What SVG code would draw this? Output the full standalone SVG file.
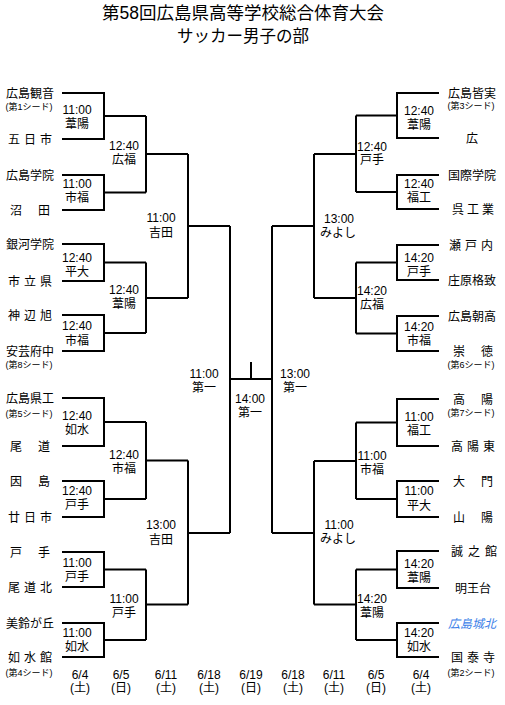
<svg xmlns="http://www.w3.org/2000/svg" width="505" height="705" viewBox="0 0 505 705">
<style>
text{font-family:"Liberation Sans","Noto Sans CJK JP",sans-serif;fill:#000}
.t{font-size:17.5px;text-anchor:middle}
.t2{font-size:16.5px;text-anchor:middle}
.n{font-size:12px;text-anchor:middle}
.s{font-size:9px;text-anchor:middle}
.m{font-size:12px;text-anchor:middle}
.d{font-size:12px;text-anchor:middle}
.blue{fill:#3a80e8;font-style:italic}
.c path{fill:none;stroke:#000;stroke-width:2}
</style>
<rect width="505" height="705" fill="#fff"/>
<g id="title">
<text class="t" x="243" y="18.5">第58回広島県高等学校総合体育大会</text>
<text class="t2" x="243" y="42">サッカー男子の部</text>
</g>
<g class="c" id="connectors">
<path d="M62 93H104V139H62M104 116H146"/>
<path d="M62 175H104V210H62M104 192.5H146"/>
<path d="M62 244H104V281H62M104 262.5H146"/>
<path d="M62 315H104V351H62M104 333H146"/>
<path d="M62 398H104V446H62M104 422H146"/>
<path d="M62 481H104V517H62M104 499H146"/>
<path d="M62 552H104V587H62M104 569.5H146"/>
<path d="M62 623H104V657H62M104 640H146"/>
<path d="M146 116V192.5M146 154H188"/>
<path d="M146 262.5V333M146 298H188"/>
<path d="M146 422V499M146 460.5H188"/>
<path d="M146 569.5V640M146 604.5H188"/>
<path d="M188 154V298M188 226H230"/>
<path d="M188 460.5V604.5M188 533H230"/>
<path d="M230 226V533M230 379H272M251 362V379"/>
<path d="M439 93H397V138H439M397 115.5H356"/>
<path d="M439 175H397V209H439M397 192H356"/>
<path d="M439 245H397V280H439M397 262.5H356"/>
<path d="M439 316H397V351H439M397 333.5H356"/>
<path d="M439 399H397V446H439M397 422.5H356"/>
<path d="M439 481H397V517H439M397 499H356"/>
<path d="M439 551H397V588H439M397 569.5H356"/>
<path d="M439 623H397V657H439M397 640H356"/>
<path d="M356 115.5V192M356 154H314"/>
<path d="M356 262.5V333.5M356 298H314"/>
<path d="M356 422.5V499M356 461H314"/>
<path d="M356 569.5V640M356 604.5H314"/>
<path d="M314 154V298M314 226H272"/>
<path d="M314 461V604.5M314 533H272"/>
<path d="M272 226V533"/>
</g>
<g id="teams-left">
<g id="t-l1"><text class="n" x="30" y="97.5">広島観音</text><text class="s" x="29" y="109.5">(第1シード)</text></g>
<g id="t-l2"><text class="n" x="30" y="143.5" textLength="44" lengthAdjust="spacing">五日市</text></g>
<g id="t-l3"><text class="n" x="30" y="179.5">広島学院</text></g>
<g id="t-l4"><text class="n" x="30" y="214.5" textLength="40" lengthAdjust="spacing">沼田</text></g>
<g id="t-l5"><text class="n" x="30" y="248.5">銀河学院</text></g>
<g id="t-l6"><text class="n" x="30" y="285.5" textLength="44" lengthAdjust="spacing">市立県</text></g>
<g id="t-l7"><text class="n" x="30" y="319.5" textLength="44" lengthAdjust="spacing">神辺旭</text></g>
<g id="t-l8"><text class="n" x="30" y="355.5">安芸府中</text><text class="s" x="29" y="367.5">(第8シード)</text></g>
<g id="t-l9"><text class="n" x="30" y="402.5">広島県工</text><text class="s" x="29" y="416.5">(第5シード)</text></g>
<g id="t-l10"><text class="n" x="30" y="450.5" textLength="40" lengthAdjust="spacing">尾道</text></g>
<g id="t-l11"><text class="n" x="30" y="485.5" textLength="40" lengthAdjust="spacing">因島</text></g>
<g id="t-l12"><text class="n" x="30" y="521.5" textLength="44" lengthAdjust="spacing">廿日市</text></g>
<g id="t-l13"><text class="n" x="30" y="556.5" textLength="40" lengthAdjust="spacing">戸手</text></g>
<g id="t-l14"><text class="n" x="30" y="591.5" textLength="44" lengthAdjust="spacing">尾道北</text></g>
<g id="t-l15"><text class="n" x="30" y="627.5">美鈴が丘</text></g>
<g id="t-l16"><text class="n" x="30" y="661.5" textLength="44" lengthAdjust="spacing">如水館</text><text class="s" x="29" y="675.5">(第4シード)</text></g>
</g>
<g id="teams-right">
<g id="t-r1"><text class="n" x="472" y="97.5">広島皆実</text><text class="s" x="471" y="108.5">(第3シード)</text></g>
<g id="t-r2"><text class="n" x="472" y="142.5">広</text></g>
<g id="t-r3"><text class="n" x="472" y="179.5">国際学院</text></g>
<g id="t-r4"><text class="n" x="473" y="213.5" textLength="42" lengthAdjust="spacing">呉工業</text></g>
<g id="t-r5"><text class="n" x="471" y="249.5" textLength="44" lengthAdjust="spacing">瀬戸内</text></g>
<g id="t-r6"><text class="n" x="472" y="284.5">庄原格致</text></g>
<g id="t-r7"><text class="n" x="472" y="320.5">広島朝高</text></g>
<g id="t-r8"><text class="n" x="473" y="355.5" textLength="40" lengthAdjust="spacing">崇徳</text><text class="s" x="471" y="367.5">(第6シード)</text></g>
<g id="t-r9"><text class="n" x="473" y="403.5" textLength="40" lengthAdjust="spacing">高陽</text><text class="s" x="471" y="415.5">(第7シード)</text></g>
<g id="t-r10"><text class="n" x="473" y="450.5" textLength="44" lengthAdjust="spacing">高陽東</text></g>
<g id="t-r11"><text class="n" x="473" y="485.5" textLength="40" lengthAdjust="spacing">大門</text></g>
<g id="t-r12"><text class="n" x="473" y="521.5" textLength="40" lengthAdjust="spacing">山陽</text></g>
<g id="t-r13"><text class="n" x="474" y="555.5" textLength="46" lengthAdjust="spacing">誠之館</text></g>
<g id="t-r14"><text class="n" x="473" y="592.5">明王台</text></g>
<g id="t-r15"><text class="n blue" x="472" y="627.5">広島城北</text></g>
<g id="t-r16"><text class="n" x="473" y="661.5" textLength="44" lengthAdjust="spacing">国泰寺</text><text class="s" x="471" y="675.5">(第2シード)</text></g>
</g>
<g id="matches-left">
<g id="m-l1"><text class="m" x="77" y="114">11:00</text><text class="m" x="77" y="128">葦陽</text></g>
<g id="m-l2"><text class="m" x="77" y="188">11:00</text><text class="m" x="77" y="202">市福</text></g>
<g id="m-l3"><text class="m" x="77" y="262">12:40</text><text class="m" x="77" y="276">平大</text></g>
<g id="m-l4"><text class="m" x="77" y="330">12:40</text><text class="m" x="77" y="345">市福</text></g>
<g id="m-l5"><text class="m" x="77" y="420">12:40</text><text class="m" x="77" y="434">如水</text></g>
<g id="m-l6"><text class="m" x="77" y="495">12:40</text><text class="m" x="77" y="509">戸手</text></g>
<g id="m-l7"><text class="m" x="77" y="567">11:00</text><text class="m" x="77" y="581">戸手</text></g>
<g id="m-l8"><text class="m" x="77" y="637">11:00</text><text class="m" x="77" y="651">如水</text></g>
<g id="m-l9"><text class="m" x="124" y="150">12:40</text><text class="m" x="124" y="164">広福</text></g>
<g id="m-l10"><text class="m" x="124" y="294">12:40</text><text class="m" x="124" y="308">葦陽</text></g>
<g id="m-l11"><text class="m" x="124" y="459">12:40</text><text class="m" x="124" y="473">市福</text></g>
<g id="m-l12"><text class="m" x="124" y="603">11:00</text><text class="m" x="124" y="617">戸手</text></g>
<g id="m-l13"><text class="m" x="161" y="222">11:00</text><text class="m" x="161" y="237">吉田</text></g>
<g id="m-l14"><text class="m" x="161" y="529">13:00</text><text class="m" x="161" y="544">吉田</text></g>
<g id="m-l15"><text class="m" x="204" y="378">11:00</text><text class="m" x="204" y="392">第一</text></g>
</g>
<g id="m-final"><text class="m" x="250" y="403">14:00</text><text class="m" x="250" y="417">第一</text></g>
<g id="matches-right">
<g id="m-r1"><text class="m" x="419" y="115">12:40</text><text class="m" x="419" y="129">葦陽</text></g>
<g id="m-r2"><text class="m" x="419" y="188">12:40</text><text class="m" x="419" y="202">福工</text></g>
<g id="m-r3"><text class="m" x="419" y="262">14:20</text><text class="m" x="419" y="276">戸手</text></g>
<g id="m-r4"><text class="m" x="419" y="331">14:20</text><text class="m" x="419" y="345">市福</text></g>
<g id="m-r5"><text class="m" x="419" y="421">11:00</text><text class="m" x="419" y="435">福工</text></g>
<g id="m-r6"><text class="m" x="419" y="495">11:00</text><text class="m" x="419" y="510">平大</text></g>
<g id="m-r7"><text class="m" x="419" y="568">14:20</text><text class="m" x="419" y="582">葦陽</text></g>
<g id="m-r8"><text class="m" x="419" y="637">14:20</text><text class="m" x="419" y="651">如水</text></g>
<g id="m-r9"><text class="m" x="372" y="151">12:40</text><text class="m" x="372" y="164">戸手</text></g>
<g id="m-r10"><text class="m" x="372" y="295">14:20</text><text class="m" x="372" y="309">広福</text></g>
<g id="m-r11"><text class="m" x="372" y="460">11:00</text><text class="m" x="372" y="474">市福</text></g>
<g id="m-r12"><text class="m" x="372" y="603">14:20</text><text class="m" x="372" y="617">葦陽</text></g>
<g id="m-r13"><text class="m" x="339" y="223">13:00</text><text class="m" x="338" y="237">みよし</text></g>
<g id="m-r14"><text class="m" x="339" y="529">11:00</text><text class="m" x="338" y="543">みよし</text></g>
<g id="m-r15"><text class="m" x="295" y="378">13:00</text><text class="m" x="295" y="392">第一</text></g>
</g>
<g id="dates">
<text class="d" x="80" y="679">6/4</text><text class="d" x="80" y="692">(土)</text>
<text class="d" x="121" y="679">6/5</text><text class="d" x="121" y="692">(日)</text>
<text class="d" x="166" y="679">6/11</text><text class="d" x="166" y="692">(土)</text>
<text class="d" x="209" y="679">6/18</text><text class="d" x="209" y="692">(土)</text>
<text class="d" x="251" y="679">6/19</text><text class="d" x="251" y="692">(日)</text>
<text class="d" x="293" y="679">6/18</text><text class="d" x="293" y="692">(土)</text>
<text class="d" x="334" y="679">6/11</text><text class="d" x="334" y="692">(土)</text>
<text class="d" x="376" y="679">6/5</text><text class="d" x="376" y="692">(日)</text>
<text class="d" x="421" y="679">6/4</text><text class="d" x="421" y="692">(土)</text>
</g>
</svg>
